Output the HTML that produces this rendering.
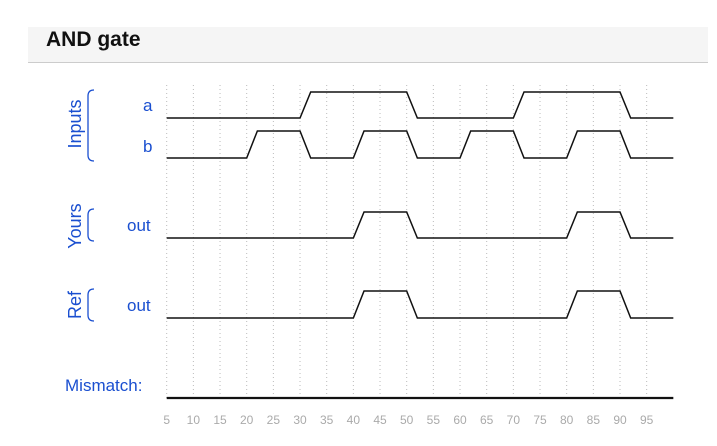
<!DOCTYPE html>
<html><head><meta charset="utf-8"><style>
body{margin:0;background:#fff;width:717px;height:446px;overflow:hidden;font-family:"Liberation Sans",Arial,sans-serif}
</style></head><body>
<div style="position:absolute;left:28px;top:27px;width:680px;height:35px;background:#f5f5f5;border-bottom:1px solid #ccc"></div>
<div style="position:absolute;left:46px;top:28px;font-size:21px;font-weight:bold;color:#111">AND gate</div>
<svg id="chart" width="717" height="446" style="position:absolute;left:0;top:0" font-family="Liberation Sans, Arial, sans-serif"></svg>
<script>
const ticks=[5,10,15,20,25,30,35,40,45,50,55,60,65,70,75,80,85,90,95];
const aEdges=[30,50,70,90];   // a toggles (starts low)
const bEdges=[20,30,40,50,60,70,80,90]; // b toggles (starts low)
const yoursEdges=[40,50,80,90];
const refEdges=[40,50,80,90];
const mismatchEdges=[];
const tStart=5,tEnd=100;
const svg=document.getElementById('chart');
const NS='http://www.w3.org/2000/svg';
function x(t){return 166.7+(t-5)*5.333;}
function mk(tag,attrs){const e=document.createElementNS(NS,tag);for(const k in attrs)e.setAttribute(k,attrs[k]);svg.appendChild(e);return e;}
ticks.forEach(t=>{
  const g=mk('line',{x1:x(t),x2:x(t),y1:85,y2:400,stroke:'#bbb','stroke-dasharray':'1,3','stroke-width':1});
  
  
  const l=mk('text',{x:x(t),y:424,'text-anchor':'middle','font-size':12,fill:'#aaa'});
  l.textContent=t;
  
  
});
function wave(edges,lowY,highY,name,w){
  let v=0,pts=[[x(tStart),lowY]];
  edges.forEach(t=>{
    const y0=v?highY:lowY;v=1-v;const y1=v?highY:lowY;
    pts.push([x(t),y0]);pts.push([x(t+2),y1]);
  });
  pts.push([x(tEnd),v?highY:lowY]);
  const p=mk('polyline',{points:pts.map(p=>p.join(',')).join(' '),fill:'none',stroke:'#111','stroke-width':w||1.5});
  
  
}
wave(aEdges,118,92,'wave-a');
wave(bEdges,158,131,'wave-b');
wave(yoursEdges,238,212,'wave-yours-out');
wave(refEdges,318,291,'wave-ref-out');
wave(mismatchEdges,398,371,'wave-mismatch',2.2);
const blue='#1a4fd0';
function txt(s,xx,yy,name,rot){
  const t=mk('text',{x:xx,y:yy,'font-size':rot?18:17,fill:blue});
  if(rot){t.setAttribute('transform','rotate(-90 '+xx+' '+yy+')');t.setAttribute('text-anchor','middle');}
  t.textContent=s;
  
  
}
txt('Inputs',81,124,'inputs-group-label',true);
txt('Yours',81,226,'yours-group-label',true);
txt('Ref',81,305,'ref-group-label',true);
txt('a',143,111,'signal-a-label');
txt('b',143,152,'signal-b-label');
txt('out',127,231,'yours-out-label');
txt('out',127,311,'ref-out-label');
txt('Mismatch:',65,391,'mismatch-label');
function brace(y1,y2,name){
  const p=mk('path',{d:`M94 ${y1} Q88 ${y1} 88 ${y1+6} L88 ${y2-6} Q88 ${y2} 94 ${y2}`,fill:'none',stroke:blue,'stroke-width':1.3});
  
  
}
brace(90,161,'inputs-brace');
brace(209,241,'yours-brace');
brace(289,321,'ref-brace');
</script>
</body></html>
